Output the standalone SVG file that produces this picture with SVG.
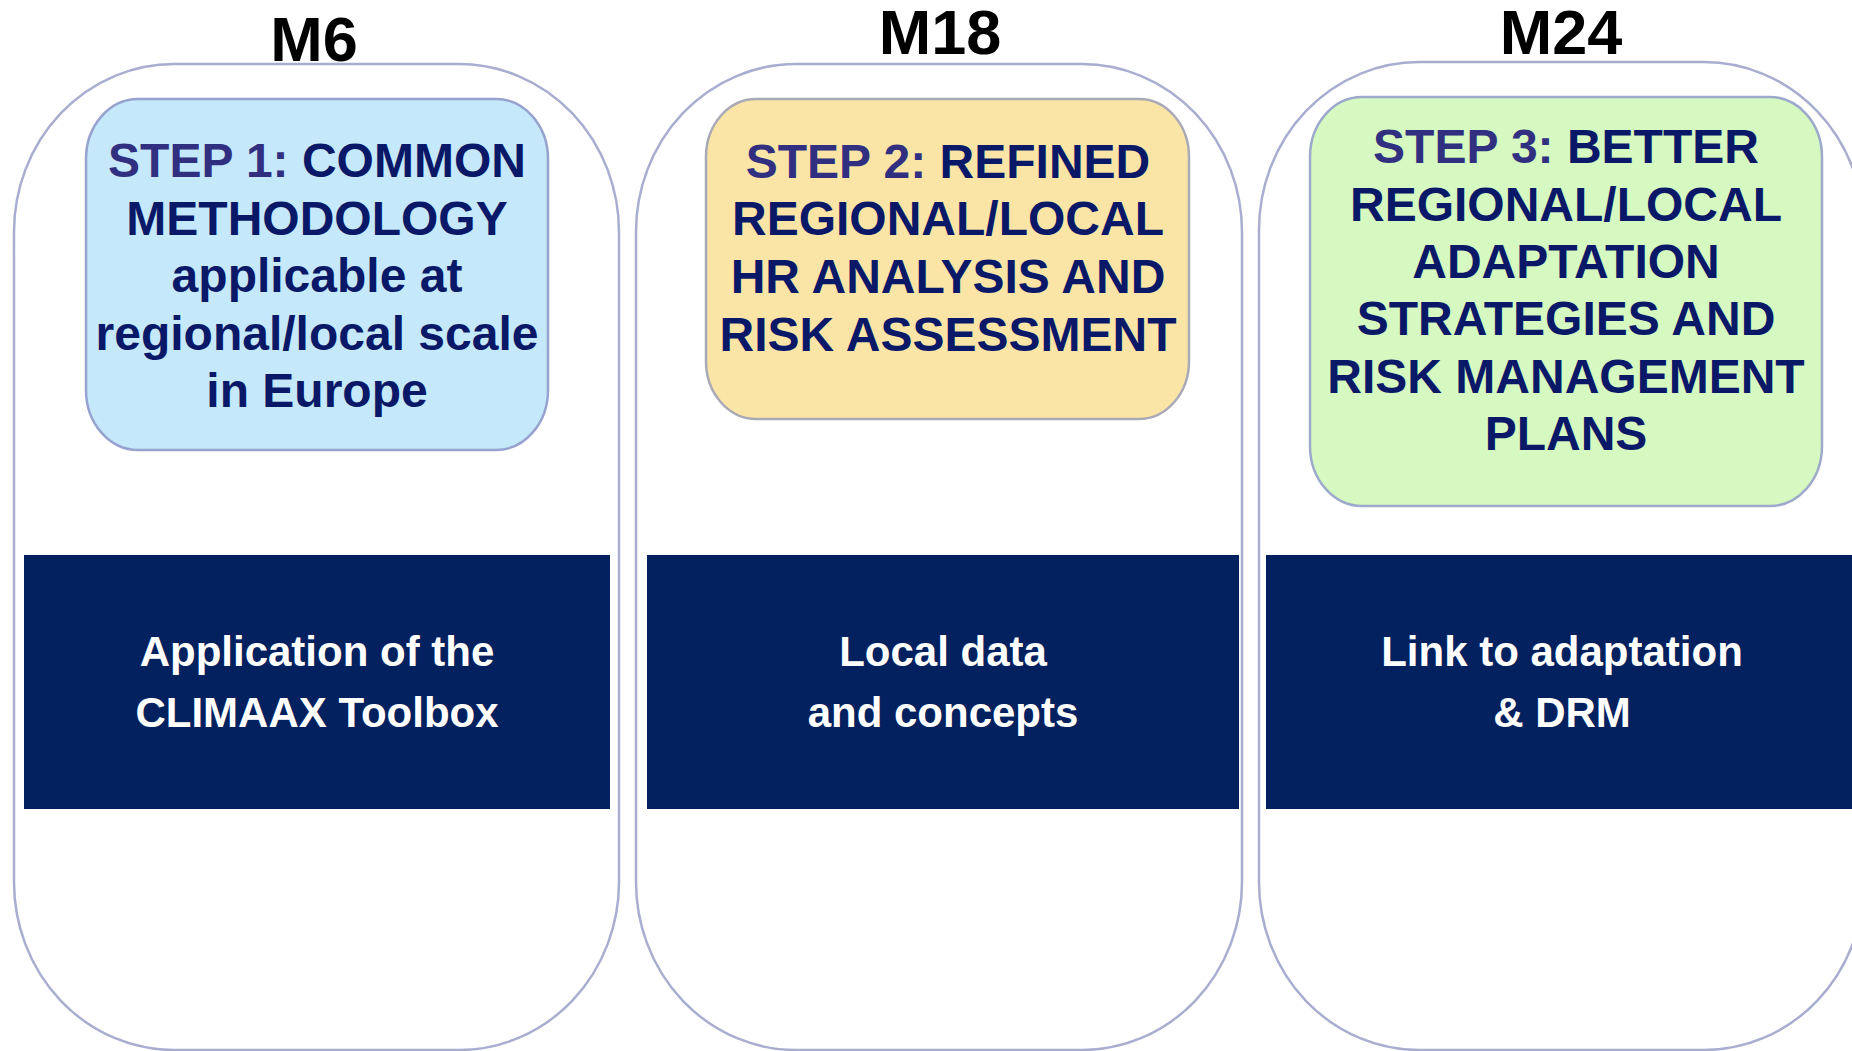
<svg xmlns="http://www.w3.org/2000/svg" width="1852" height="1051" viewBox="0 0 1852 1051">
<style>
.cap{fill:#ffffff;stroke:#a9aed0;stroke-width:2.5}
.step{stroke-width:2.5}
.st{font-family:"Liberation Sans",Arial,sans-serif;font-weight:bold;font-size:48px;fill:#0a1868;text-anchor:middle}
.lbl{fill:#302f80}
.hd{font-family:"Liberation Sans",Arial,sans-serif;font-weight:bold;font-size:63px;fill:#000000;text-anchor:middle}
.dk{fill:#03215e}
.wt{font-family:"Liberation Sans",Arial,sans-serif;font-weight:bold;font-size:42px;fill:#ffffff;text-anchor:middle}
</style>
<rect width="1852" height="1051" fill="#ffffff"/>
<g id="col1">
<rect class="cap" x="14" y="64" width="605" height="986" rx="160" ry="168"/>
<text class="hd" x="314" y="61">M6</text>
<g id="step1">
<rect class="step" x="86" y="99" width="462" height="351" rx="52" ry="60" fill="#c5e8fb" stroke="#97a3cf"/>
<text class="st" x="317" y="177"><tspan class="lbl">STEP 1:</tspan> COMMON</text>
<text class="st" x="317" y="235">METHODOLOGY</text>
<text class="st" x="317" y="292">applicable at</text>
<text class="st" x="317" y="350">regional/local scale</text>
<text class="st" x="317" y="407">in Europe</text>
</g>
<g id="out1">
<rect class="dk" x="24" y="555" width="586" height="254"/>
<text class="wt" x="317" y="666">Application of the</text>
<text class="wt" x="317" y="727">CLIMAAX Toolbox</text>
</g>
</g>
<g id="col2">
<rect class="cap" x="636" y="64" width="606" height="986" rx="160" ry="168"/>
<text class="hd" x="940" y="54">M18</text>
<g id="step2">
<rect class="step" x="706" y="99" width="483" height="320" rx="50" ry="58" fill="#fbe5a6" stroke="#a9aab6"/>
<text class="st" x="948" y="178"><tspan class="lbl">STEP 2:</tspan> REFINED</text>
<text class="st" x="948" y="235">REGIONAL/LOCAL</text>
<text class="st" x="948" y="293">HR ANALYSIS AND</text>
<text class="st" x="948" y="351">RISK ASSESSMENT</text>
</g>
<g id="out2">
<rect class="dk" x="647" y="555" width="592" height="254"/>
<text class="wt" x="943" y="666">Local data</text>
<text class="wt" x="943" y="727">and concepts</text>
</g>
</g>
<g id="col3">
<rect class="cap" x="1259" y="62" width="605" height="988" rx="160" ry="168"/>
<text class="hd" x="1561" y="54">M24</text>
<g id="step3">
<rect class="step" x="1310" y="97" width="512" height="409" rx="52" ry="60" fill="#d5f9c0" stroke="#9eaacb"/>
<text class="st" x="1566" y="163"><tspan class="lbl">STEP 3:</tspan> BETTER</text>
<text class="st" x="1566" y="221">REGIONAL/LOCAL</text>
<text class="st" x="1566" y="278">ADAPTATION</text>
<text class="st" x="1566" y="335">STRATEGIES AND</text>
<text class="st" x="1566" y="393">RISK MANAGEMENT</text>
<text class="st" x="1566" y="450">PLANS</text>
</g>
<g id="out3">
<rect class="dk" x="1266" y="555" width="600" height="254"/>
<text class="wt" x="1562" y="666">Link to adaptation</text>
<text class="wt" x="1562" y="727">&amp; DRM</text>
</g>
</g>
<g id="connectors"></g>
</svg>
